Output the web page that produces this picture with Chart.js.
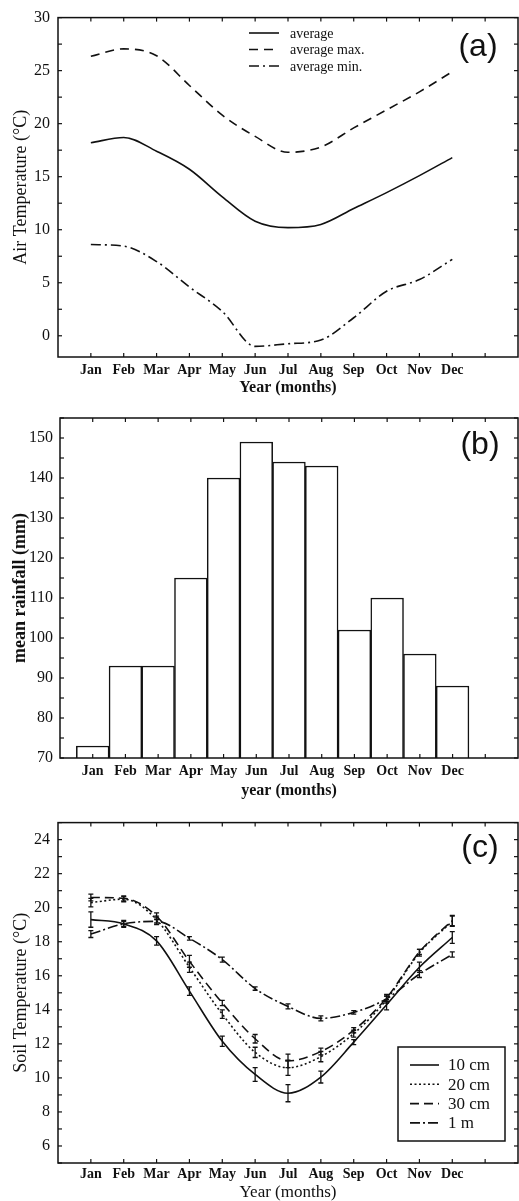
<!DOCTYPE html>
<html><head><meta charset="utf-8">
<script src="https://cdn.jsdelivr.net/npm/chart.js@4.4.1/dist/chart.umd.min.js"></script>
<style>
html,body{margin:0;padding:0;background:#fff;width:519px;height:1201px;overflow:hidden;}
.p{position:absolute;left:0;}
canvas{display:block;}
</style></head><body>
<div class="p" style="top:0px"><canvas id="ca" width="519" height="398"></canvas></div>
<div class="p" style="top:398px"><canvas id="cb" width="519" height="407"></canvas></div>
<div class="p" style="top:805px"><canvas id="cc" width="519" height="403"></canvas></div>
<script>
// ---------- data ----------
const months = ['Jan','Feb','Mar','Apr','May','Jun','Jul','Aug','Sep','Oct','Nov','Dec'];
const monthSlots = [1,2,3,4,5,6,7,8,9,10,11,12,13];

// (a) air temperature (°C)
const airAvg = [18.2, 18.7, 17.4, 15.7, 13.1, 10.8, 10.2, 10.5, 12.0, 13.5, 15.1, 16.8];
const airMax = [26.35, 27.05, 26.4, 23.6, 20.8, 18.8, 17.3, 17.8, 19.6, 21.3, 23.0, 24.9];
const airMin = [8.6, 8.45, 7.0, 4.6, 2.3, -1.0, -0.75, -0.4, 1.7, 4.2, 5.3, 7.2];
const airTicks = [0, 5, 10, 15, 20, 25, 30];

// (b) mean rainfall (mm)
const rainfall = [73, 93, 93, 115, 140, 149, 144, 143, 102, 110, 96, 88];
const rainTicks = [70, 80, 90, 100, 110, 120, 130, 140, 150];

// (c) soil temperature (°C) with error bars
const soil10 = [19.3, 19.05, 18.05, 15.1, 12.15, 10.2, 9.1, 10.05, 12.1, 14.3, 16.5, 18.25];
const err10  = [0.45, 0.2, 0.25, 0.25, 0.3, 0.4, 0.5, 0.35, 0.15, 0.3, 0.3, 0.35];
const soil20 = [20.3, 20.5, 19.3, 16.5, 13.75, 11.5, 10.6, 11.25, 12.6, 14.6, 17.35, 19.2];
const err20  = [0.25, 0.15, 0.2, 0.3, 0.25, 0.3, 0.45, 0.3, 0.2, 0.2, 0.2, 0.3];
const soil30 = [20.6, 20.55, 19.5, 16.85, 14.4, 12.3, 11.0, 11.55, 12.8, 14.7, 17.4, 19.25];
const err30  = [0.2, 0.15, 0.2, 0.35, 0.15, 0.25, 0.4, 0.2, 0.15, 0.2, 0.15, 0.3];
const soil1m = [18.45, 19.05, 19.2, 18.2, 16.95, 15.25, 14.2, 13.5, 13.85, 14.65, 16.1, 17.25];
const err1m  = [0.2, 0.15, 0.2, 0.1, 0.15, 0.1, 0.15, 0.15, 0.1, 0.15, 0.2, 0.15];
const soilTicks = [6, 8, 10, 12, 14, 16, 18, 20, 22, 24];

// ---------- helpers ----------
const SERIF = 'Liberation Serif';
const INK = '#111';
const pts = arr => arr.map((v, i) => ({x: i + 1, y: v}));

const framePlugin = {
  id: 'frame',
  afterDraw(chart) {
    const {ctx, chartArea: a, scales: {x, y}} = chart;
    ctx.save();
    ctx.strokeStyle = INK; ctx.lineWidth = 1.5; ctx.setLineDash([]);
    ctx.strokeRect(a.left, a.top, a.right - a.left, a.bottom - a.top);
    ctx.lineWidth = 1.2;
    const tl = 4;
    const seg = (x1, y1, x2, y2) => { ctx.beginPath(); ctx.moveTo(x1, y1); ctx.lineTo(x2, y2); ctx.stroke(); };
    monthSlots.forEach(v => {
      const px = x.getPixelForValue(v);
      seg(px, a.bottom, px, a.bottom - tl);
      seg(px, a.top, px, a.top + tl);
    });
    const tv = y.ticks.map(t => t.value);
    const half = (tv[1] - tv[0]) / 2;
    for (let v = tv[0] - half * 2; v <= y.max + 1e-9; v += half) {
      if (v < y.min - 1e-9) continue;
      const py = y.getPixelForValue(v);
      seg(a.left, py, a.left + tl, py);
      seg(a.right, py, a.right - tl, py);
    }
    ctx.restore();
  }
};

const panelLabelPlugin = {
  id: 'panelLabel',
  afterDraw(chart, args, o) {
    if (!o.text) return;
    const {ctx, chartArea: a} = chart;
    ctx.save();
    ctx.fillStyle = INK;
    ctx.font = `${o.size}px "Liberation Sans", Arial, sans-serif`;
    ctx.textAlign = 'center'; ctx.textBaseline = 'middle';
    ctx.fillText(o.text, a.right - o.dx, a.top + o.dy);
    ctx.restore();
  }
};

const lineLegendPlugin = {
  id: 'lineLegend',
  afterDraw(chart, args, o) {
    if (!o.show) return;
    const {ctx} = chart;
    const dss = chart.data.datasets;
    ctx.save();
    ctx.strokeStyle = INK; ctx.fillStyle = INK;
    if (o.box) {
      ctx.lineWidth = 1.5; ctx.setLineDash([]);
      ctx.strokeRect(o.box.x, o.box.y, o.box.w, o.box.h);
    }
    ctx.font = `${o.fontSize}px "${SERIF}", serif`;
    ctx.textBaseline = 'middle'; ctx.textAlign = 'left';
    dss.forEach((ds, i) => {
      const yy = o.y + i * o.rowH;
      ctx.lineWidth = ds.borderWidth;
      ctx.setLineDash(ds.borderDash || []);
      ctx.beginPath(); ctx.moveTo(o.x, yy); ctx.lineTo(o.x + o.lineLen, yy); ctx.stroke();
      ctx.setLineDash([]);
      ctx.fillText(ds.label, o.x + o.lineLen + o.gap, yy + 1);
    });
    ctx.restore();
  }
};

const errorBarPlugin = {
  id: 'errorBars',
  afterDatasetsDraw(chart) {
    const {ctx, scales: {x, y}} = chart;
    ctx.save();
    ctx.strokeStyle = INK; ctx.lineWidth = 1.3; ctx.setLineDash([]);
    chart.data.datasets.forEach(ds => {
      if (!ds.errors) return;
      ds.data.forEach((p, i) => {
        const e = ds.errors[i];
        const px = x.getPixelForValue(p.x);
        const t = y.getPixelForValue(p.y + e), b = y.getPixelForValue(p.y - e);
        ctx.beginPath();
        ctx.moveTo(px, t); ctx.lineTo(px, b);
        ctx.moveTo(px - 2.5, t); ctx.lineTo(px + 2.5, t);
        ctx.moveTo(px - 2.5, b); ctx.lineTo(px + 2.5, b);
        ctx.stroke();
      });
    });
    ctx.restore();
  }
};

function makeOptions(c) {
  return {
    responsive: false, animation: false, devicePixelRatio: 1,
    layout: {padding: {top: c.top, right: 1, left: 0, bottom: 0}},
    plugins: {
      legend: {display: false}, tooltip: {enabled: false},
      panelLabel: c.label, lineLegend: c.legend || {show: false}
    },
    scales: {
      x: {
        type: 'linear', min: 0, max: 14, offset: false,
        grid: {display: false, drawTicks: false}, border: {display: false},
        afterBuildTicks: s => { s.ticks = monthSlots.map(v => ({value: v})); },
        afterFit: s => { s.height = c.xh; },
        ticks: {autoSkip: false, maxRotation: 0, minRotation: 0, padding: c.xpad, color: INK,
                font: {family: SERIF, size: 14, weight: 'bold'}, callback: v => months[v - 1] || ''},
        title: {display: true, text: c.xtitle, color: INK,
                font: {family: SERIF, size: c.xtsize, weight: c.xtweight}, padding: {top: 0, bottom: c.xtpad}}
      },
      y: {
        min: c.ymin, max: c.ymax,
        grid: {display: false, drawTicks: false}, border: {display: false},
        afterBuildTicks: s => { s.ticks = c.yticks.map(v => ({value: v})); },
        afterFit: s => { s.width = c.left; },
        ticks: {padding: c.ypad, color: INK, font: {family: SERIF, size: 16}},
        title: {display: true, text: c.ytitle, color: INK,
                font: {family: SERIF, size: c.ytsize, weight: c.ytweight}, padding: {top: 10, bottom: 0}}
      }
    }
  };
}

const lineDs = (label, arr, dash, extra) => Object.assign({
  label, data: pts(arr), borderColor: INK, borderWidth: 1.6, borderDash: dash,
  pointRadius: 0, fill: false, cubicInterpolationMode: 'monotone', borderCapStyle: 'butt'
}, extra || {});

// (a)
new Chart(document.getElementById('ca'), {
  type: 'line',
  data: {datasets: [
    lineDs('average', airAvg, []),
    lineDs('average max.', airMax, [9, 6]),
    lineDs('average min.', airMin, [10, 4, 2, 4])
  ]},
  options: makeOptions({top: 15, left: 58, xh: 41, xpad: 5, xtitle: 'Year (months)', xtsize: 16, xtweight: 'bold', xtpad: 1,
    ymin: -2, ymax: 30, yticks: airTicks, ypad: 8, ytitle: 'Air Temperature (°C)', ytsize: 18, ytweight: 'normal',
    label: {text: '(a)', size: 32, dx: 40, dy: 30},
    legend: {show: true, x: 249, y: 33, rowH: 16.5, lineLen: 30, gap: 11, fontSize: 14}}),
  plugins: [framePlugin, panelLabelPlugin, lineLegendPlugin]
});

// (b)
new Chart(document.getElementById('cb'), {
  type: 'bar',
  data: {datasets: [{label: 'mean rainfall', data: pts(rainfall), backgroundColor: '#fff', borderColor: INK,
    borderWidth: 1.5, barPercentage: 1, categoryPercentage: 1}]},
  options: makeOptions({top: 20, left: 60, xh: 47, xpad: 5, xtitle: 'year (months)', xtsize: 16, xtweight: 'bold', xtpad: 5,
    ymin: 70, ymax: 155, yticks: rainTicks, ypad: 7, ytitle: 'mean rainfall (mm)', ytsize: 18, ytweight: 'bold',
    label: {text: '(b)', size: 32, dx: 38, dy: 27}}),
  plugins: [framePlugin, panelLabelPlugin]
});

// (c)
new Chart(document.getElementById('cc'), {
  type: 'line',
  data: {datasets: [
    lineDs('10 cm', soil10, [], {errors: err10}),
    lineDs('20 cm', soil20, [2, 2.5], {errors: err20}),
    lineDs('30 cm', soil30, [9, 5], {errors: err30}),
    lineDs('1 m', soil1m, [10, 3, 2, 3], {errors: err1m})
  ]},
  options: makeOptions({top: 16, left: 58, xh: 45, xpad: 3, xtitle: 'Year (months)', xtsize: 17, xtweight: 'normal', xtpad: 5,
    ymin: 5, ymax: 25, yticks: soilTicks, ypad: 8, ytitle: 'Soil Temperature (°C)', ytsize: 18, ytweight: 'normal',
    label: {text: '(c)', size: 32, dx: 38, dy: 26},
    legend: {show: true, x: 410, y: 260, rowH: 19.3, lineLen: 29, gap: 9, fontSize: 17,
             box: {x: 398, y: 242, w: 107, h: 94}}}),
  plugins: [framePlugin, panelLabelPlugin, lineLegendPlugin, errorBarPlugin]
});
</script>
</body></html>
